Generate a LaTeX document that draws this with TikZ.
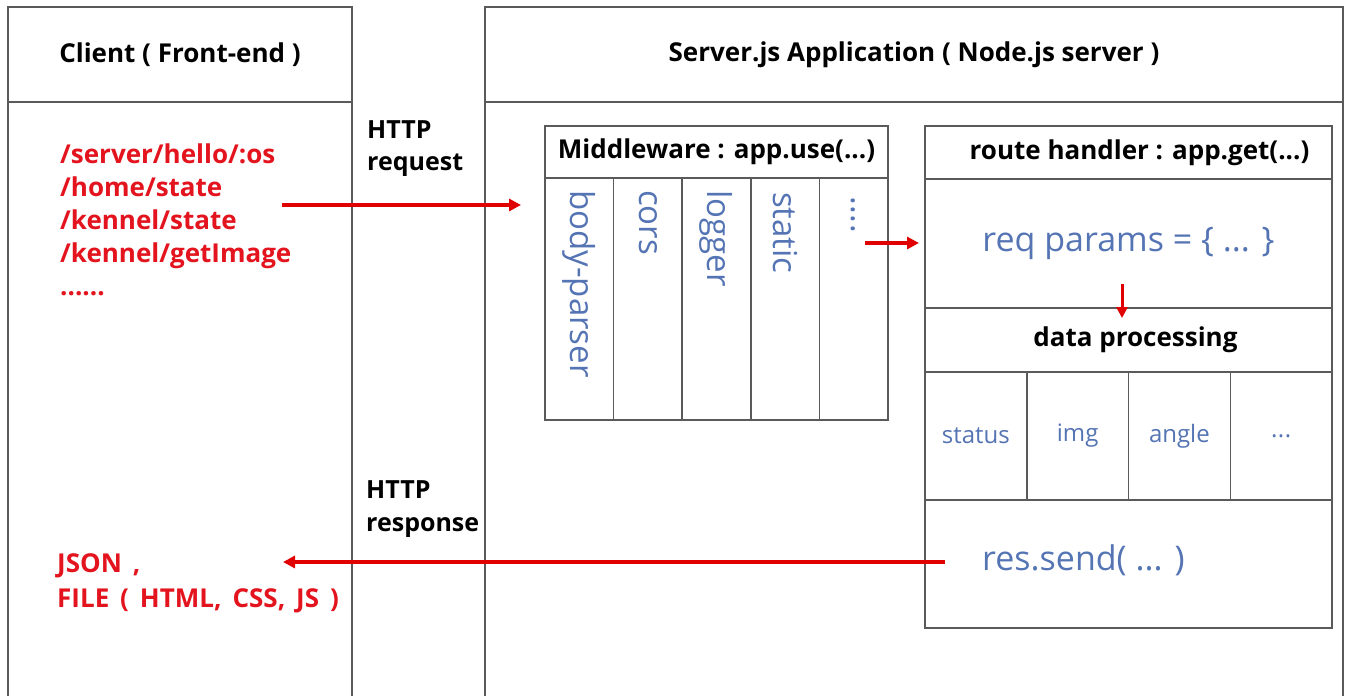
\documentclass[tikz,border=0pt]{standalone}
\usepackage{fontspec}
\setmainfont{Open Sans}
\usetikzlibrary{arrows.meta}
\definecolor{boxline}{HTML}{5A5A5A}
\definecolor{routered}{HTML}{E3141E}
\definecolor{codeblue}{HTML}{5474B4}
\definecolor{arrowred}{HTML}{E00000}
\newcommand\widewords{\spaceskip 0.42em\relax}
\tikzset{
  edge/.style={draw=boxline, line width=1.5pt},
  cell/.style={draw=boxline, line width=1.5pt, inner sep=0pt, outer sep=0pt, anchor=north west},
  head/.style={font=\bfseries\fontsize{26}{30}\selectfont, text=black},
  label/.style={font=\bfseries\fontsize{25}{30}\selectfont, text=black, anchor=base west, inner sep=0pt},
  route/.style={font=\bfseries\fontsize{26}{30}\selectfont\widewords, text=routered, anchor=base west, inner sep=0pt},
  code/.style={font=\fontsize{24}{28}\selectfont, text=codeblue},
  bigcode/.style={font=\fontsize{34}{38}\selectfont, text=codeblue},
  vcode/.style={font=\fontsize{33}{38}\selectfont, text=codeblue, rotate=-90, anchor=west, inner sep=0pt},
  flow/.style={draw=arrowred, line width=3.2pt, -{Triangle[length=12pt,width=12pt]}}
}
\begin{document}
\begin{tikzpicture}[x=1pt,y=-1pt]
\useasboundingbox[fill=white] (0,0) rectangle (1350,696);

% client column
\node[cell, head, minimum width=344pt, minimum height=95pt] (clienthead) at (8,7) {Client ( Front-end )};
\draw[edge] (clienthead.south west) -- (8,700);
\draw[edge] (clienthead.south east) -- (352,700);

\node[route] (u1) at (60,163) {/server/hello/:os};
\node[route] (u2) at (60,196) {/home/state};
\node[route] (u3) at (60,229) {/kennel/state};
\node[route] (u4) at (60,262) {/kennel/getImage};
\node[route] (u5) at (60,295) {......};

\node[route] (r1) at (57,572) {JSON ,};
\node[route] (r2) at (57,607) {FILE ( HTML, CSS, JS )};

% transport labels
\node[label] (hreq1) at (367,138) {HTTP};
\node[label] (hreq2) at (367,170) {request};
\node[label] (hres1) at (366,498) {HTTP};
\node[label] (hres2) at (366,531) {response};

% server column
\node[cell, head, minimum width=858pt, minimum height=95pt] (serverhead) at (485,7) {Server.js Application ( Node.js server )};
\draw[edge] (serverhead.south west) -- (485,700);
\draw[edge] (serverhead.south east) -- (1343,700);

% middleware stack
\node[cell, head, minimum width=343pt, minimum height=52pt] (mwhead) at (545,126) {Middleware : app.use(...)};
\foreach \i/\x/\t/\d in {1/545/{body-parser}/12, 2/613.6/{cors}/12, 3/682.2/{logger}/12, 4/750.8/{static}/14, 5/819.4/{.\kern0.5pt.\kern0.5pt.\kern0.5pt.}/18} {
  \node[cell, minimum width=68.6pt, minimum height=242pt] (mw\i) at (\x,178) {};
  \node[vcode] (mwt\i) at ([yshift=-\d pt]mw\i.north) {\t};
}

% route handler
\node[cell, head, minimum width=407pt, minimum height=53pt] (rhead) at (925,126) {\hspace{22pt}route handler : app.get(...)};
\node[cell, bigcode, minimum width=407pt, minimum height=129pt] (rq) at (925,179) {req params = \{ ... \}};
\node[cell, head, minimum width=407pt, minimum height=64pt] (dp) at (925,308) {\hspace{14pt}data processing};
\foreach \i/\x/\t in {1/925/{status}, 2/1026.75/{img}, 3/1128.5/{angle}, 4/1230.25/{.\kern0.5pt.\kern0.5pt.\hspace{8pt}}} {
  \node[cell, code, minimum width=101.75pt, minimum height=128pt] (cell\i) at (\x,372) {\t};
}
\node[cell, minimum width=407pt, minimum height=128pt] (rs) at (925,500) {};
\node[bigcode, anchor=west, inner sep=0pt] (rstext) at (982,560) {res.send( ... )};

% request / response flow
\coordinate (reqfrom) at (282,205);
\coordinate (reqto) at (521,205);
\coordinate (mwout) at (865,243);
\coordinate (rqin) at (919,243);
\coordinate (rqdown) at (1122,284);
\coordinate (dpin) at (1122,318);
\coordinate (resfrom) at (945,562);
\coordinate (resto) at (283,562);
\draw[flow] (reqfrom) -- (reqto);
\draw[flow] (mwout) -- (rqin);
\draw[flow, line width=3pt, -{Triangle[length=11pt,width=11pt]}] (rqdown) -- (dpin);
\draw[flow] (resfrom) -- (resto);
\end{tikzpicture}
\end{document}
